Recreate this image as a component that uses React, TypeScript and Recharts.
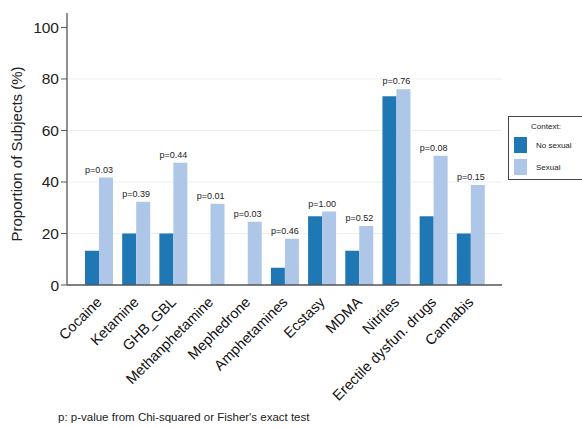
import React from 'react';
import { BarChart, Bar, XAxis, YAxis, CartesianGrid, LabelList } from 'recharts';

const categories = [
    'Cocaine', 'Ketamine', 'GHB_GBL', 'Methanphetamine', 'Mephedrone', 'Amphetamines',
    'Ecstasy', 'MDMA', 'Nitrites', 'Erectile dysfun. drugs', 'Cannabis',
];
const noSexual = [13.3, 20, 20, 0, 0, 6.7, 26.7, 13.3, 73.3, 26.7, 20];
const sexual = [41.7, 32.3, 47.5, 31.5, 24.6, 18, 28.5, 22.9, 76, 50.2, 38.8];
const pValues = ['0.03', '0.39', '0.44', '0.01', '0.03', '0.46', '1.00', '0.52', '0.76', '0.08', '0.15'];
const yTicks = [0, 20, 40, 60, 80, 100];
const gridValues = [20, 40, 60, 80];
const Y_MAX = 105.6;

const DARK = '#1f77b4';
const LIGHT = '#aec7e8';
const FONT = '"Liberation Sans", Arial, sans-serif';

const data = categories.map((name, i) => ({
    name,
    noSexual: noSexual[i],
    sexual: sexual[i],
    p: `p=${pValues[i]}`,
}));

const AngledTick = ({ x, y, payload }: any) => {
    const ax = x + 4;
    const ay = y + 10;
    return (
        <text
            x={ax}
            y={ay}
            transform={`rotate(-45, ${ax}, ${ay})`}
            textAnchor="end"
            fontSize={14.5}
            fontFamily={FONT}
            fill="#111"
        >
            {payload.value}
        </text>
    );
};

// p-value sits over the pair, centred on the boundary between the two bars
const PLabel = ({ x, y, value }: any) => (
    <text x={x} y={y - 5} textAnchor="middle" fontSize={9} fontFamily={FONT} fill="#222">
        {value}
    </text>
);

const legendItems = [
    { label: 'No sexual', color: DARK },
    { label: 'Sexual', color: LIGHT },
];

// grid only at the inner ticks (none at 0 or 100)
const gridCoords = ({ offset }: any) =>
    offset ? gridValues.map((v) => offset.top + offset.height * (1 - v / Y_MAX)) : [];

export default function App() {
    return (
        <div style={{ position: 'absolute', left: 0, top: 0, width: 582, height: 427, overflow: 'hidden', background: '#fff', fontFamily: FONT }}>
            <BarChart
                width={582}
                height={427}
                data={data}
                margin={{ top: 13, right: 80, left: 17, bottom: 0 }}
                barGap={0}
                barSize={14}
            >
                <CartesianGrid
                    horizontal
                    vertical={false}
                    horizontalCoordinatesGenerator={gridCoords}
                    stroke="#e9f1f3"
                />
                <XAxis
                    dataKey="name"
                    interval={0}
                    height={142}
                    tickLine={false}
                    axisLine={{ stroke: '#555', strokeWidth: 1.3 }}
                    padding={{ left: 13, right: 13 }}
                    tick={<AngledTick />}
                />
                <YAxis
                    width={50}
                    domain={[0, Y_MAX]}
                    ticks={yTicks}
                    allowDataOverflow
                    tick={{ fontSize: 15.5, fill: '#222', fontFamily: FONT }}
                    tickSize={6}
                    tickLine={{ stroke: '#555' }}
                    axisLine={{ stroke: '#555', strokeWidth: 1.3 }}
                    label={{
                        content: () => (
                            <text
                                x={22}
                                y={154}
                                transform="rotate(-90, 22, 154)"
                                textAnchor="middle"
                                fontSize={15}
                                fontFamily={FONT}
                                fill="#222"
                            >
                                Proportion of Subjects (%)
                            </text>
                        ),
                    }}
                />
                <Bar dataKey="noSexual" fill={DARK} isAnimationActive={false} />
                <Bar dataKey="sexual" fill={LIGHT} isAnimationActive={false}>
                    <LabelList dataKey="p" content={<PLabel />} />
                </Bar>
            </BarChart>

            <div
                style={{
                    position: 'absolute', left: 508, top: 116, width: 84, height: 64,
                    border: '1px solid #444', background: '#fff', boxSizing: 'border-box',
                    fontSize: 8, color: '#222',
                }}
            >
                <div style={{ position: 'absolute', left: 0, width: 74, top: 5, textAlign: 'center' }}>Context:</div>
                {legendItems.map((item, i) => (
                    <div key={item.label} style={{ position: 'absolute', left: 5, top: 20 + i * 22, display: 'flex', alignItems: 'center' }}>
                        <div style={{ width: 13, height: 16, background: item.color }} />
                        <span style={{ marginLeft: 9 }}>{item.label}</span>
                    </div>
                ))}
            </div>

            <div style={{ position: 'absolute', left: 58, top: 411, fontSize: 11.5, color: '#222' }}>
                p: p-value from Chi-squared or Fisher's exact test
            </div>
        </div>
    );
}
